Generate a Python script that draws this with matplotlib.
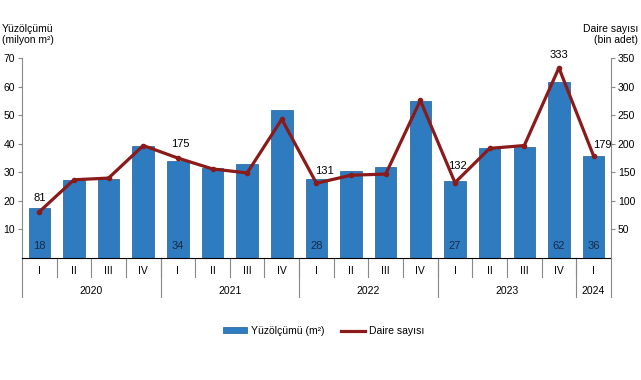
import matplotlib
matplotlib.use('Agg')
import matplotlib.pyplot as plt
import matplotlib.transforms as mtransforms
from matplotlib.patches import Patch
from matplotlib.lines import Line2D

plt.rcParams['font.family'] = ['Liberation Sans', 'DejaVu Sans']

# data
quarters = ['I', 'II', 'III', 'IV', 'I', 'II', 'III', 'IV', 'I', 'II', 'III', 'IV',
            'I', 'II', 'III', 'IV', 'I']
years = ['2020', '2021', '2022', '2023', '2024']
year_counts = [4, 4, 4, 4, 1]
area = [17.5, 27.3, 27.6, 39.4, 33.9, 31.6, 33.0, 51.7, 27.5, 30.4, 31.9, 54.9,
        26.9, 38.7, 39.0, 61.8, 35.6]
area_labels = {0: '18', 4: '34', 8: '28', 12: '27', 15: '62', 16: '36'}
dwellings = [81, 137, 140, 197, 175, 156, 149, 243, 131, 145, 147, 276,
             132, 192, 197, 333, 179]
dw_labels = {0: '81', 4: '175', 8: '131', 12: '132', 15: '333', 16: '179'}

bar_color = '#2E7BC0'
line_color = '#8B1A1A'

fig = plt.figure(figsize=(6.41, 3.80), dpi=100)
ax = fig.add_axes([0.0343, 0.321, 0.9187, 0.526])
x = list(range(len(area)))

ax.bar(x, area, width=0.62, color=bar_color, edgecolor='#1F5E97', linewidth=0.5, zorder=2)
ax.set_xlim(-0.5, len(area) - 0.5)
ax.set_ylim(0, 70)
ax.set_yticks([10, 20, 30, 40, 50, 60, 70])
ax.tick_params(axis='y', labelsize=7.5, length=3, color='#888888', pad=2)
ax.set_xticks([])
for s in ['top', 'right']:
    ax.spines[s].set_visible(False)
ax.spines['left'].set_color('#888888')
ax.spines['bottom'].set_color('black')

for i, t in area_labels.items():
    ax.annotate(t, (i, 0), xytext=(0, 9), textcoords='offset points',
                ha='center', va='center', fontsize=8, color='#1B2A45', zorder=3)

ax2 = ax.twinx()
ax2.plot(x, dwellings, color=line_color, lw=2.3, marker='o', ms=3, zorder=4)
ax2.set_ylim(0, 350)
ax2.set_yticks([50, 100, 150, 200, 250, 300, 350])
ax2.tick_params(axis='y', labelsize=7.5, length=3, color='#888888', pad=2)
for s in ['top', 'left', 'bottom']:
    ax2.spines[s].set_visible(False)
ax2.spines['right'].set_color('#888888')

offsets = {0: (0, 10), 4: (2, 10), 8: (6, 9), 12: (2, 12), 15: (0, 9), 16: (6, 8)}
for i, t in dw_labels.items():
    ax2.annotate(t, (i, dwellings[i]), xytext=offsets[i], textcoords='offset points',
                 ha='center', va='center', fontsize=8, color='black')

# category axis below
trans = mtransforms.blended_transform_factory(ax.transData, ax.transAxes)
for i, q in enumerate(quarters):
    ax.text(i, -0.066, q, transform=trans, ha='center', va='center', fontsize=7.5)
for i in range(len(quarters) - 1):
    ax.plot([i + 0.5, i + 0.5], [0, -0.095], transform=trans, color='#888888',
            lw=0.8, clip_on=False)
start = -0.5
bounds = [start]
for y, n in zip(years, year_counts):
    ax.text(start + n / 2, -0.163, y, transform=trans, ha='center', va='center', fontsize=7.5)
    start += n
    bounds.append(start)
for b in bounds:
    ax.plot([b, b], [0, -0.195], transform=trans, color='#888888', lw=0.8, clip_on=False)

fig.text(0.003, 0.91, 'Yüzölçümü\n(milyon m²)', ha='left', va='center', fontsize=7.5,
         linespacing=1.1)
fig.text(0.996, 0.91, 'Daire sayısı\n(bin adet)', ha='right', va='center', fontsize=7.5,
         linespacing=1.1)

handles = [Patch(facecolor=bar_color, edgecolor='#1F5E97', linewidth=0.5),
           Line2D([0], [0], color=line_color, lw=2.3)]
fig.legend(handles, ['Yüzölçümü (m²)', 'Daire sayısı'], loc='center',
           bbox_to_anchor=(0.505, 0.129), ncol=2, frameon=False, fontsize=7.5,
           handlelength=2.3, handleheight=0.5, handletextpad=0.4, columnspacing=1.5)

fig.savefig('out.png', dpi=100)
